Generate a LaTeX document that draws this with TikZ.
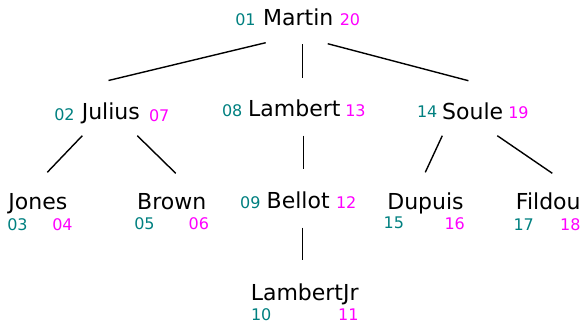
\documentclass[tikz,border=0pt]{standalone}
\usepackage{fontspec}
\setmainfont{DejaVu Sans}
\usetikzlibrary{calc}
\definecolor{numteal}{RGB}{0,128,128}
\definecolor{nummag}{RGB}{255,0,255}
\begin{document}
\begin{tikzpicture}[x=1pt,y=-1pt,
  person/.style={inner sep=0pt,anchor=base,font=\fontsize{22}{26}\selectfont},
  pre/.style={inner sep=0pt,anchor=base,text=numteal,font=\fontsize{16}{19}\selectfont},
  post/.style={inner sep=0pt,anchor=base,text=nummag,font=\fontsize{16}{19}\selectfont},
  link/.style={draw=black,line width=1.4pt}]
\useasboundingbox (0,0) rectangle (582,324);
% persons
\node[person] (martin) at (298.3,25.7) {Martin};
\node[person] (julius) at (110.8,119.3) {Julius};
\node[person] (lambert) at (294.3,116) {Lambert};
\node[person] (soule) at (472.7,119) {Soule};
\node[person] (jones) at (37.8,209.3) {Jones};
\node[person] (brown) at (171.7,209) {Brown};
\node[person] (bellot) at (298.2,208.3) {Bellot};
\node[person] (dupuis) at (425.5,209) {Dupuis};
\node[person] (fildou) at (548.3,209) {Fildou};
\node[person] (lambertjr) at (304.7,300) {LambertJr};
% numbers
\node[pre] (n01) at (245.5,25.7) {01};
\node[post] (n20) at (350,25.7) {20};
\node[pre] (n02) at (64.5,120.7) {02};
\node[post] (n07) at (159.2,121.7) {07};
\node[pre] (n08) at (232.2,116) {08};
\node[post] (n13) at (355.5,116) {13};
\node[pre] (n14) at (427.2,117.3) {14};
\node[post] (n19) at (518.5,118.3) {19};
\node[pre] (n03) at (17.5,230.7) {03};
\node[post] (n04) at (62.5,230.7) {04};
\node[pre] (n05) at (144.5,229.3) {05};
\node[post] (n06) at (198.8,229.3) {06};
\node[pre] (n09) at (250.3,208.3) {09};
\node[post] (n12) at (346.2,208.3) {12};
\node[pre] (n15) at (393.8,228.3) {15};
\node[post] (n16) at (454.7,229) {16};
\node[pre] (n17) at (523.7,230) {17};
\node[post] (n18) at (570.3,230.5) {18};
\node[pre] (n10) at (261.2,320.5) {10};
\node[post] (n11) at (348.3,320.5) {11};
% connectors
\draw[link] ($(martin.base)+(-32.6,17)$) -- ($(julius.base)+(-2.3,-38.8)$);
\draw[link] ($(martin.base)+(4.2,18.6)$) -- ($(lambert.base)+(8.2,-38.3)$);
\draw[link] ($(martin.base)+(29.4,18)$) -- ($(soule.base)+(-4.3,-38.3)$);
\draw[link] ($(julius.base)+(-28.5,16.4)$) -- ($(jones.base)+(9.5,-37)$);
\draw[link] ($(julius.base)+(26.5,16.4)$) -- ($(brown.base)+(4,-35.7)$);
\draw[link] ($(lambert.base)+(9,19.7)$) -- ($(bellot.base)+(5.1,-39.3)$);
\draw[link] ($(soule.base)+(-30.4,16.7)$) -- ($(dupuis.base)+(-0.2,-36.7)$);
\draw[link] ($(soule.base)+(24.6,16.7)$) -- ($(fildou.base)+(4,-35.7)$);
\draw[link] ($(bellot.base)+(4.1,19.4)$) -- ($(lambertjr.base)+(-2.4,-40)$);
\end{tikzpicture}
\end{document}
